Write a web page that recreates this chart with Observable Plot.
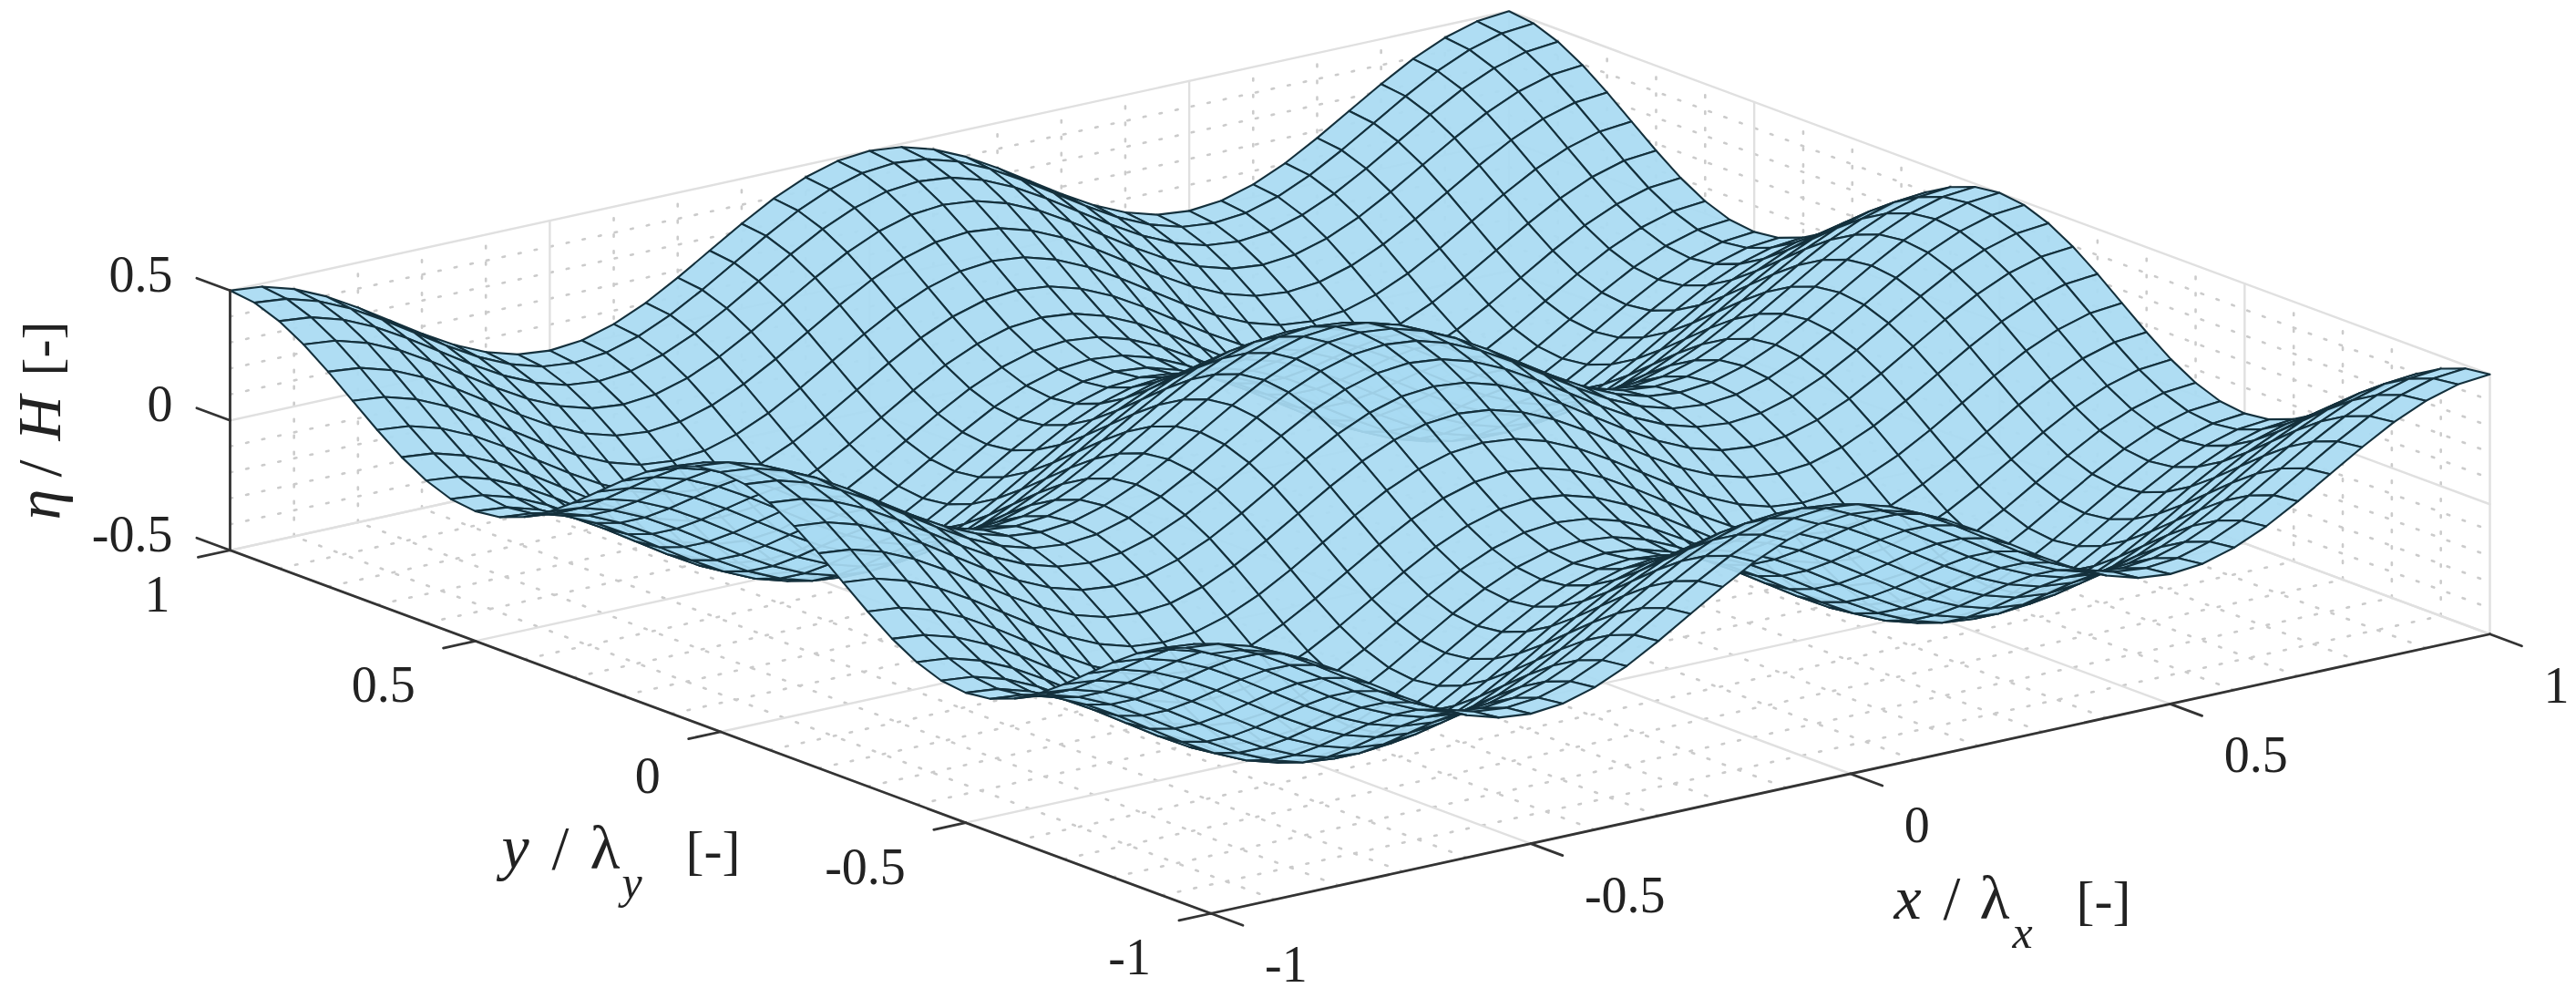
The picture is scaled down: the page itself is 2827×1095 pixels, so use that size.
<!DOCTYPE html>
<html>
<head>
<meta charset="utf-8">
<style>html,body{margin:0;padding:0;background:#fff;overflow:hidden}svg{display:block}</style>
<script src="https://cdn.jsdelivr.net/npm/d3@7"></script>
<script src="https://cdn.jsdelivr.net/npm/@observablehq/plot@0.6"></script>
</head>
<body>
<div id="chart"></div>
<script>
// mesh positions (x / lambda_x and y / lambda_y)
const meshPositions = [-1,-0.95,-0.9,-0.85,-0.8,-0.75,-0.7,-0.65,-0.6,-0.55,-0.5,-0.45,-0.4,-0.35,-0.3,-0.25,-0.2,-0.15,-0.1,-0.05,0,0.05,0.1,0.15,0.2,0.25,0.3,0.35,0.4,0.45,0.5,0.55,0.6,0.65,0.7,0.75,0.8,0.85,0.9,0.95,1];
// eta / H read over one crest-to-trough quarter of the repeating wave pattern
const etaQuarter = [
[0.500,0.488,0.452,0.397,0.327,0.250,0.173,0.103,0.048,0.012,0.000],
[0.488,0.476,0.440,0.385,0.315,0.238,0.161,0.091,0.036,0.000,-0.012],
[0.452,0.440,0.404,0.349,0.279,0.202,0.125,0.055,0.000,-0.036,-0.048],
[0.397,0.385,0.349,0.294,0.224,0.147,0.070,0.000,-0.055,-0.091,-0.103],
[0.327,0.315,0.279,0.224,0.154,0.077,0.000,-0.070,-0.125,-0.161,-0.173],
[0.250,0.238,0.202,0.147,0.077,0.000,-0.077,-0.147,-0.202,-0.238,-0.250],
[0.173,0.161,0.125,0.070,0.000,-0.077,-0.154,-0.224,-0.279,-0.315,-0.327],
[0.103,0.091,0.055,0.000,-0.070,-0.147,-0.224,-0.294,-0.349,-0.385,-0.397],
[0.048,0.036,0.000,-0.055,-0.125,-0.202,-0.279,-0.349,-0.404,-0.440,-0.452],
[0.012,0.000,-0.036,-0.091,-0.161,-0.238,-0.315,-0.385,-0.440,-0.476,-0.488],
[0.000,-0.012,-0.048,-0.103,-0.173,-0.250,-0.327,-0.397,-0.452,-0.488,-0.500]
];
const xTicks = [-1,-0.5,0,0.5,1];
const yTicks = [-1,-0.5,0,0.5,1];
const zTicks = [-0.5,0,0.5];
const xMinor = [-0.9,-0.8,-0.7,-0.6,-0.4,-0.3,-0.2,-0.1,0.1,0.2,0.3,0.4,0.6,0.7,0.8,0.9];
const yMinor = xMinor;
const zMinor = [-0.4,-0.3,-0.2,-0.1,0.1,0.2,0.3,0.4];
const xTickLabels = ["-1","-0.5","0","0.5","1"];
const yTickLabels = ["-1","-0.5","0","0.5","1"];
const zTickLabels = ["-0.5","0","0.5"];

const W = 2827, H = 1095;
const FONT = "Liberation Serif";
// orthographic camera: screen position of a point of the (x, y, z) box
const project = (x, y, z) => [
  1492 + 701.75 * x - 538.25 * y,
  649.25 - 153.25 * x - 199.25 * y - 285 * (z + 0.5)
];
const fold = k => { const m = k % 20; return m > 10 ? 20 - m : m; };
const eta = (i, j) => etaQuarter[fold(i)][fold(j)];

// far quads first, so nearer ones paint over them
const quads = [];
for (let i = meshPositions.length - 2; i >= 0; i--) {
  for (let j = meshPositions.length - 2; j >= 0; j--) {
    const id = i * 100 + j;
    for (const [a, b] of [[i, j], [i + 1, j], [i + 1, j + 1], [i, j + 1]]) {
      const [sx, sy] = project(meshPositions[a], meshPositions[b], eta(a, b));
      quads.push({id, sx, sy});
    }
  }
}

function segments(list) {
  const rows = [];
  list.forEach(([p, q], id) => {
    const [ax, ay] = project(...p), [bx, by] = project(...q);
    rows.push({id, sx: ax, sy: ay}, {id, sx: bx, sy: by});
  });
  return rows;
}
function wallAndFloor(xs, ys, zs) {
  const s = [];
  for (const x of xs) { s.push([[x, 1, -0.5], [x, 1, 0.5]]); s.push([[x, -1, -0.5], [x, 1, -0.5]]); }
  for (const y of ys) { s.push([[1, y, -0.5], [1, y, 0.5]]); s.push([[-1, y, -0.5], [1, y, -0.5]]); }
  for (const z of zs) { s.push([[-1, 1, z], [1, 1, z]]); s.push([[1, 1, z], [1, -1, z]]); }
  return s;
}
const minorGrid = segments(wallAndFloor(xMinor, yMinor, zMinor));
const majorGrid = segments(wallAndFloor(xTicks, yTicks, zTicks));
const axesLines = segments([
  [[-1, -1, -0.5], [1, -1, -0.5]],
  [[-1, -1, -0.5], [-1, 1, -0.5]],
  [[-1, 1, -0.5], [-1, 1, 0.5]],
  ...xTicks.map(x => [[x, -1, -0.5], [x, -1.065, -0.5]]),
  ...yTicks.map(y => [[-1, y, -0.5], [-1.05, y, -0.5]]),
  ...zTicks.map(z => [[-1, 1, z], [-1, 1.068, z]])
]);

const at = (p, dx, dy) => { const [sx, sy] = project(...p); return {sx: sx + dx, sy: sy + dy}; };
const xLabelRows = xTicks.map((v, i) => ({...at([v, -1, -0.5], 59, 57), t: xTickLabels[i]}));
const yLabelRows = yTicks.map((v, i) => ({...at([-1, v, -0.5], -66, 49), t: yTickLabels[i]}));
const zLabelRows = zTicks.map((v, i) => ({...at([-1, 1, v], -63, -17), t: zTickLabels[i]}));

const xTitle = [
  {t: "x", sx: 2078, sy: 1007, style: "italic", size: 68},
  {t: "/", sx: 2132, sy: 1007, style: "normal", size: 68},
  {t: "λ", sx: 2172, sy: 1007, style: "normal", size: 68},
  {t: "x", sx: 2208, sy: 1039, style: "italic", size: 50},
  {t: "[-]", sx: 2278, sy: 1007, style: "normal", size: 60}
];
const yTitle = [
  {t: "y", sx: 550, sy: 952, style: "italic", size: 68},
  {t: "/", sx: 605, sy: 952, style: "normal", size: 68},
  {t: "λ", sx: 647, sy: 952, style: "normal", size: 68},
  {t: "y", sx: 682, sy: 984, style: "italic", size: 50},
  {t: "[-]", sx: 752, sy: 952, style: "normal", size: 60}
];
const zTitle = [
  {t: "η", sx: 65, sy: 570, style: "italic", size: 68},
  {t: "/", sx: 65, sy: 523, style: "normal", size: 68},
  {t: "H", sx: 65, sy: 483, style: "italic", size: 68},
  {t: "[-]", sx: 65, sy: 412, style: "normal", size: 60}
];
const pieces = (rows, extra) => rows.map(r => Plot.text([r], {
  x: "sx", y: "sy", text: "t", textAnchor: "start", lineAnchor: "bottom",
  fontFamily: FONT, fontSize: r.size, fontStyle: r.style, fill: "#222", ...extra
}));
const tickText = (rows, anchor) => Plot.text(rows, {
  x: "sx", y: "sy", text: "t", textAnchor: anchor, lineAnchor: "middle",
  fontFamily: FONT, fontSize: 56, fill: "#222"
});

const chart = Plot.plot({
  width: W, height: H,
  marginTop: 0, marginRight: 0, marginBottom: 0, marginLeft: 0,
  x: {domain: [0, W], range: [0, W], axis: null},
  y: {domain: [0, H], range: [0, H], axis: null},
  style: {background: "#fff"},
  marks: [
    Plot.line(minorGrid, {x: "sx", y: "sy", z: "id", stroke: "#cbcbcb", strokeWidth: 2.6, strokeDasharray: "2.6,15.4"}),
    Plot.line(majorGrid, {x: "sx", y: "sy", z: "id", stroke: "#e0e0e0", strokeWidth: 2.4}),
    Plot.line(quads, {x: "sx", y: "sy", z: "id", curve: "linear-closed", fill: "#a9daf2", fillOpacity: 0.93, stroke: "#14303c", strokeWidth: 2.1, strokeLinejoin: "round"}),
    Plot.line(axesLines, {x: "sx", y: "sy", z: "id", stroke: "#333", strokeWidth: 2.8}),
    tickText(xLabelRows, "start"),
    tickText(yLabelRows, "end"),
    tickText(zLabelRows, "end"),
    ...pieces(xTitle, {}),
    ...pieces(yTitle, {}),
    ...pieces(zTitle, {rotate: -90})
  ]
});
document.getElementById("chart").appendChild(chart);
</script>
</body>
</html>
